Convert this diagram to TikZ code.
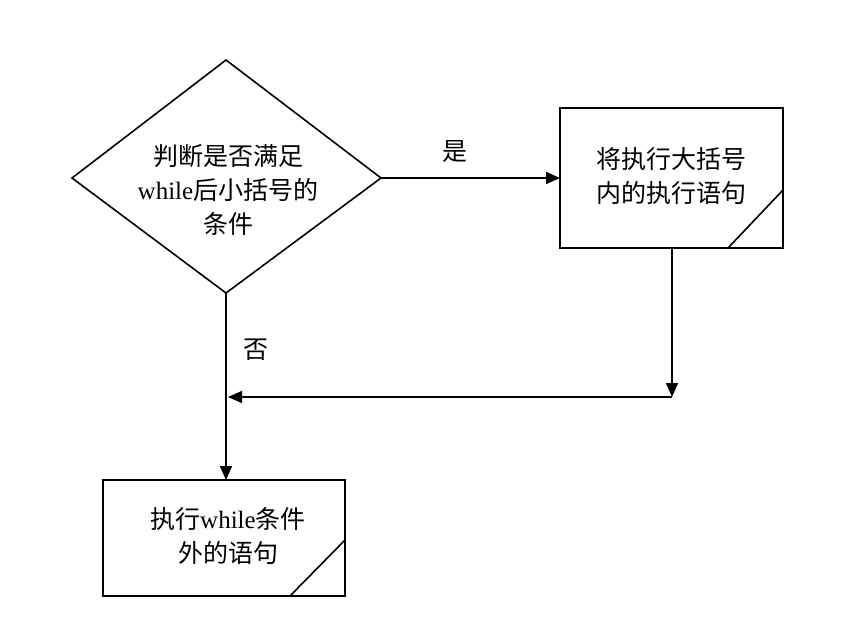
\documentclass[tikz,border=0pt]{standalone}
\usepackage{fontspec}
\setmainfont{Liberation Serif}
\newfontfamily\cjk{Noto Sans CJK SC}
\usetikzlibrary{arrows.meta}
\begin{document}
\begin{tikzpicture}[x=1pt,y=-1pt,
  line/.style={draw, line width=1.6pt},
  arr/.style={line, -{Triangle[length=14pt,width=12pt]}},
  txt/.style={font=\fontsize{25}{34}\selectfont\cjk, align=center, inner sep=0pt}]
\useasboundingbox (0,0) rectangle (845,643);
\coordinate (dT) at (226,60);
\coordinate (dB) at (226,293);
\coordinate (dL) at (72,178);
\coordinate (dR) at (381,178);
\draw[line] (dT) -- (dR) -- (dB) -- (dL) -- cycle;
\node[txt] (d) at (228,190) {判断是否满足\\{\rmfamily while}后小括号的\\条件};
\coordinate (b1tl) at (560,108);
\coordinate (b1br) at (783,248);
\draw[line] (b1tl) rectangle (b1br);
\draw[line] (728,248) -- (783,190);
\node[txt] (b1) at (671,176) {将执行大括号\\内的执行语句};
\coordinate (b2tl) at (103,480);
\coordinate (b2br) at (345,596);
\draw[line] (b2tl) rectangle (b2br);
\draw[line] (290,596) -- (345,540);
\node[txt] (b2) at (228,536) {执行{\rmfamily while}条件\\外的语句};
\coordinate (b1in) at (560,178);
\coordinate (b1out) at (672,248);
\coordinate (corner) at (672,397);
\coordinate (join) at (228,397);
\coordinate (b2in) at (226,480);
\draw[arr] (dR) -- (b1in);
\draw[arr] (b1out) -- (corner);
\draw[arr] (corner) -- (join);
\draw[arr] (dB) -- (b2in);
\node[txt] (yes) at (455,152) {是};
\node[txt] (no) at (256,350) {否};
\end{tikzpicture}
\end{document}
